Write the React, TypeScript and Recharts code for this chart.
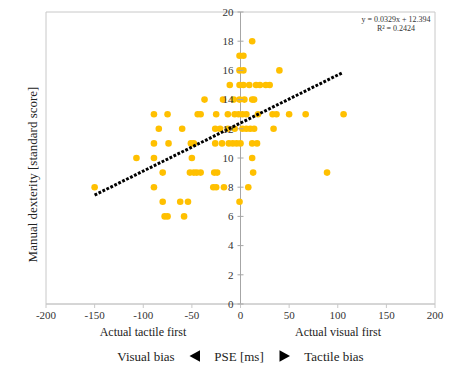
import React from "react";
import { ScatterChart, Scatter, XAxis, YAxis, ReferenceArea, ReferenceLine } from "recharts";

// PSE [ms] (x) and manual dexterity standard score (y)
const pseMs: number[] = [
  12,
  -1, 3,
  -1, 3, 40,
  -11, -1, 3, 9, 16, 20, 26, 30,
  -37, -18, -7, -1, 4, 12, 14,
  -89, -75, -44, -41, -25, -13, -6, -2, 2, 6, 18, 33, 37, 50, 67, 106,
  -84, -60, -26, -21, -13, -6, 2, 6, 10, 14, 34,
  -89, -74, -51, -48, -26, -19, -12, -8, -4, 0, 12, 17,
  -107, -89, -50, 12,
  -80, -52, -48, -45, -41, -27, -24, 13, 89,
  -150, -89, -28, -25, -17, 8,
  -80, -62, -54, -1,
  -78, -75, -58,
];
const dexterity: number[] = [
  18,
  17, 17,
  16, 16, 16,
  15, 15, 15, 15, 15, 15, 15, 15,
  14, 14, 14, 14, 14, 14, 14,
  13, 13, 13, 13, 13, 13, 13, 13, 13, 13, 13, 13, 13, 13, 13, 13,
  12, 12, 12, 12, 12, 12, 12, 12, 12, 12, 12,
  11, 11, 11, 11, 11, 11, 11, 11, 11, 11, 11, 11,
  10, 10, 10, 10,
  9, 9, 9, 9, 9, 9, 9, 9, 9,
  8, 8, 8, 8, 8, 8,
  7, 7, 7, 7,
  6, 6, 6,
];
const xTicks: number[] = [-200, -150, -100, -50, 0, 50, 100, 150, 200];
const yTicks: number[] = [0, 2, 4, 6, 8, 10, 12, 14, 16, 18, 20];
const trendSlope = 0.0329;
const trendIntercept = 12.394;
const trendRange: number[] = [-150, 105];
const equationLines: string[] = ["y = 0.0329x + 12.394", "R\u00b2 = 0.2424"];

const points = pseMs.map((x, i) => ({ x, y: dexterity[i] }));
const trend = trendRange.map((x) => ({ x, y: trendSlope * x + trendIntercept }));

const W = 474;
const H = 378;
const Y_AXIS_W = 46;
const M_RIGHT = 39;
const M_TOP = 12;
const X_AXIS_H = 30;
const M_BOTTOM = 44;
const AXIS_X = Y_AXIS_W + (W - Y_AXIS_W - M_RIGHT) / 2;
const FONT = "'Liberation Serif', 'Times New Roman', serif";
const GOLD = "#FFC000";

const renderYTick = (props: any) => {
  const { y, payload } = props;
  return (
    <g key={`yt-${payload.value}`}>
      <line x1={AXIS_X - 3} x2={AXIS_X + 3} y1={y} y2={y} stroke="#A6A6A6" />
      <text x={AXIS_X - 7} y={y} dy="0.35em" textAnchor="end" fontSize={11} fontFamily={FONT} fill="#333">
        {payload.value}
      </text>
    </g>
  );
};

const Dot = (props: any) => {
  const { cx, cy } = props;
  return <circle cx={cx} cy={cy} r={3.3} fill={GOLD} />;
};

export default function App() {
  return (
    <div style={{ position: "absolute", left: 0, top: 0, width: W, height: H, background: "#fff" }}>
      <ScatterChart width={W} height={H} margin={{ top: M_TOP, right: M_RIGHT, left: 0, bottom: M_BOTTOM }}>
        <ReferenceArea x1={-200} x2={200} y1={0} y2={20} fill="none" stroke="#C8C8C8" strokeWidth={1} ifOverflow="visible" />
        <XAxis
          type="number"
          dataKey="x"
          domain={[-200, 200]}
          ticks={xTicks}
          interval={0}
          height={X_AXIS_H}
          axisLine={{ stroke: "#C8C8C8" }}
          tickLine={{ stroke: "#C8C8C8" }}
          tickSize={4}
          tickMargin={3}
          tick={{ fontSize: 11, fontFamily: FONT, fill: "#333" }}
        />
        <YAxis
          type="number"
          dataKey="y"
          domain={[0, 20]}
          ticks={yTicks}
          interval={0}
          width={Y_AXIS_W}
          axisLine={false}
          tickLine={false}
          tick={renderYTick}
        />
        <ReferenceLine x={0} stroke="#A6A6A6" strokeWidth={1} />
        <Scatter data={points} fill={GOLD} shape={<Dot />} isAnimationActive={false} />
        <Scatter
          data={trend}
          line={{ stroke: "#000", strokeWidth: 3, strokeDasharray: "2.8 1.6" }}
          shape={() => null}
          isAnimationActive={false}
        />
      </ScatterChart>
      <svg width={W} height={H} style={{ position: "absolute", left: 0, top: 0, pointerEvents: "none" }}>
        <text
          x={32.5}
          y={174.5}
          transform="rotate(-90 32.5 174.5)"
          textAnchor="middle"
          dominantBaseline="central"
          fontSize={13}
          fontFamily={FONT}
          fill="#222"
        >
          Manual dexterity [standard score]
        </text>
        <text x={396} y={19.5} textAnchor="middle" dominantBaseline="central" fontSize={8} fontFamily={FONT} fill="#333">
          {equationLines[0]}
        </text>
        <text x={396} y={28.5} textAnchor="middle" dominantBaseline="central" fontSize={8} fontFamily={FONT} fill="#333">
          {equationLines[1]}
        </text>
        <text x={143} y={331.7} textAnchor="middle" dominantBaseline="central" fontSize={12} fontFamily={FONT} fill="#222">
          Actual tactile first
        </text>
        <text x={338} y={331.7} textAnchor="middle" dominantBaseline="central" fontSize={12} fontFamily={FONT} fill="#222">
          Actual visual first
        </text>
        <text x={146} y={356} textAnchor="middle" dominantBaseline="central" fontSize={13} fontFamily={FONT} fill="#222">
          Visual bias
        </text>
        <polygon points="189.5,356 200,350.2 200,361.8" fill="#000" />
        <text x={239} y={356} textAnchor="middle" dominantBaseline="central" fontSize={13} fontFamily={FONT} fill="#222">
          PSE [ms]
        </text>
        <polygon points="290,356 279.5,350.2 279.5,361.8" fill="#000" />
        <text x={334} y={356} textAnchor="middle" dominantBaseline="central" fontSize={13} fontFamily={FONT} fill="#222">
          Tactile bias
        </text>
      </svg>
    </div>
  );
}
